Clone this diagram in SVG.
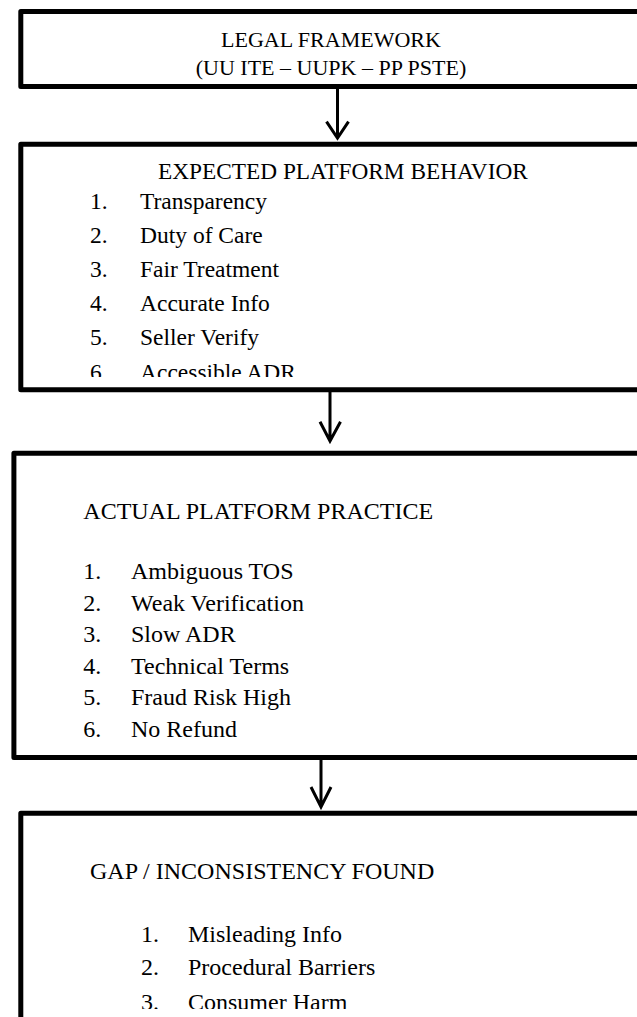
<svg xmlns="http://www.w3.org/2000/svg" width="637" height="1017" viewBox="0 0 637 1017">
<style>
.box{fill:#fff;stroke:#000;stroke-width:5;stroke-linejoin:round}
.t{font-family:"Liberation Serif","Times New Roman",serif;fill:#000}
.c{stroke:#000;stroke-width:3;fill:none;stroke-linecap:butt;stroke-linejoin:miter}
</style>
<defs>
<clipPath id="clip2"><rect x="20" y="146" width="617" height="231"/></clipPath>
<clipPath id="clip4"><rect x="20" y="815" width="617" height="194"/></clipPath>
</defs>
<g id="legal-framework">
<rect class="box" x="20.8" y="11.5" width="625" height="75"/>
<text class="t" x="331" y="47" font-size="22" text-anchor="middle">LEGAL FRAMEWORK</text>
<text class="t" x="331" y="75" font-size="22" text-anchor="middle">(UU ITE – UUPK – PP PSTE)</text>
</g>
<g id="expected-behavior">
<rect class="box" x="20.8" y="144.2" width="625" height="245.5"/>
<text class="t" x="158" y="179" font-size="23.3">EXPECTED PLATFORM BEHAVIOR</text>
<g clip-path="url(#clip2)" font-size="23.5">
<text class="t" x="90" y="208.5">1.</text><text class="t" x="140" y="208.5">Transparency</text>
<text class="t" x="90" y="242.7">2.</text><text class="t" x="140" y="242.7">Duty of Care</text>
<text class="t" x="90" y="276.9">3.</text><text class="t" x="140" y="276.9">Fair Treatment</text>
<text class="t" x="90" y="311.1">4.</text><text class="t" x="140" y="311.1">Accurate Info</text>
<text class="t" x="90" y="345.3">5.</text><text class="t" x="140" y="345.3">Seller Verify</text>
<text class="t" x="90" y="379.5">6.</text><text class="t" x="140" y="379.5">Accessible ADR</text>
</g>
</g>
<g id="actual-practice">
<rect class="box" x="13.9" y="453.2" width="632" height="304.3"/>
<g font-size="24">
<text class="t" x="83.3" y="519.3">ACTUAL PLATFORM PRACTICE</text>
<text class="t" x="83.3" y="579">1.</text><text class="t" x="131" y="579">Ambiguous TOS</text>
<text class="t" x="83.3" y="610.5">2.</text><text class="t" x="131" y="610.5">Weak Verification</text>
<text class="t" x="83.3" y="642">3.</text><text class="t" x="131" y="642">Slow ADR</text>
<text class="t" x="83.3" y="673.5">4.</text><text class="t" x="131" y="673.5">Technical Terms</text>
<text class="t" x="83.3" y="705">5.</text><text class="t" x="131" y="705">Fraud Risk High</text>
<text class="t" x="83.3" y="736.5">6.</text><text class="t" x="131" y="736.5">No Refund</text>
</g>
</g>
<g id="gap-found">
<rect class="box" x="20.8" y="813.2" width="625" height="220"/>
<text class="t" x="90" y="879.3" font-size="24">GAP / INCONSISTENCY FOUND</text>
<g clip-path="url(#clip4)" font-size="24">
<text class="t" x="141" y="942">1.</text><text class="t" x="188" y="942">Misleading Info</text>
<text class="t" x="141" y="975.3">2.</text><text class="t" x="188" y="975.3">Procedural Barriers</text>
<text class="t" x="141" y="1010">3.</text><text class="t" x="188" y="1010">Consumer Harm</text>
</g>
</g>
<g id="connectors">
<path class="c" d="M337.5 89 V138 M326.5 121.7 L337.5 138 L348.5 121.7"/>
<path class="c" d="M330 392 V441 M320 421.7 L330 441 L340.5 421.7"/>
<path class="c" d="M321 760 V807 M311 787 L321 807 L331 787"/>
</g>
</svg>
